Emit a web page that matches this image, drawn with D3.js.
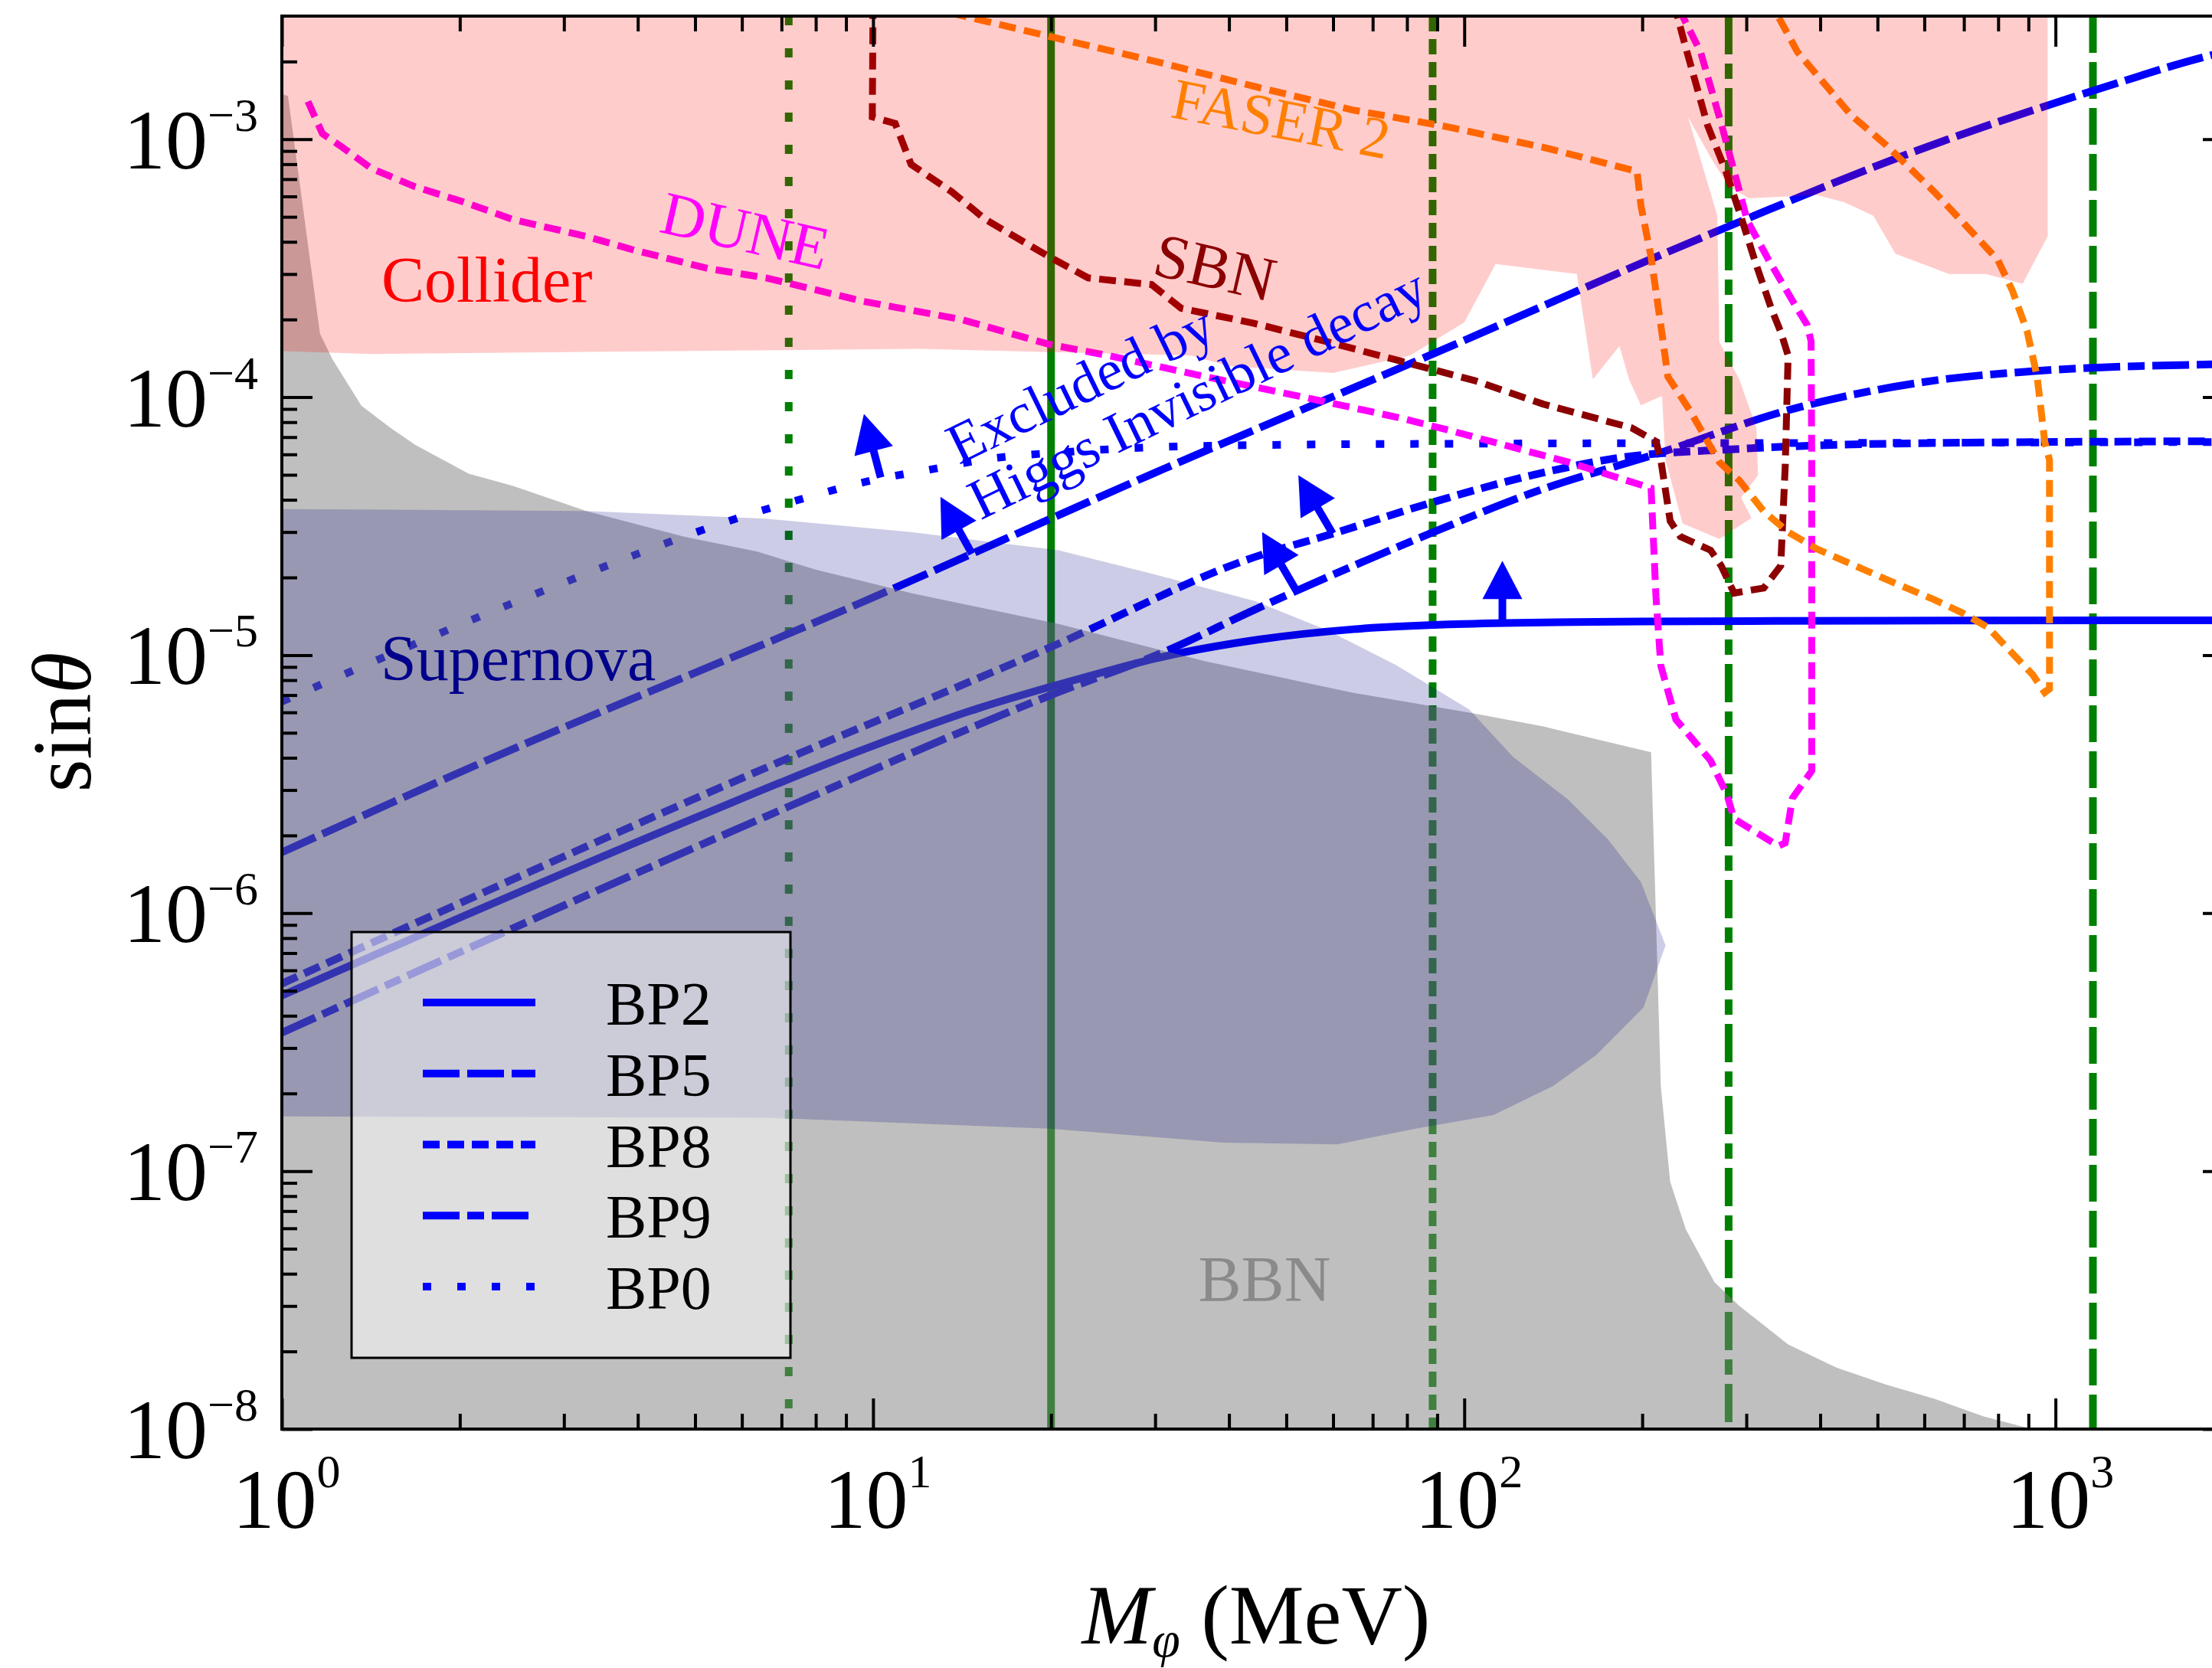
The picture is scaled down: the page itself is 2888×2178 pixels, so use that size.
<!DOCTYPE html>
<html><head><meta charset="utf-8">
<script src="https://cdn.jsdelivr.net/npm/d3@7"></script>
<style>body{margin:0;background:#fff}</style>
</head><body>
<svg id="c" width="2888" height="2178"></svg>
<script>
// ---------------- data ----------------
const massMajor=[1,10,100,1000];
const massExp=["0","1","2","3"];
const sinMajor=[1e-3,1e-4,1e-5,1e-6,1e-7,1e-8];
const sinExp=["\u22123","\u22124","\u22125","\u22126","\u22127","\u22128"];

const colliderRegion=[[0.9,3.5e-3],[970,3.5e-3],[970,4.2e-4],[880,2.75e-4],[762,3.0e-4],[661,3.0e-4],[536,3.6e-4],[492,5.05e-4],[439,5.7e-4],[395,6.07e-4],[303,5.9e-4],[280,6.55e-4],[261,8.5e-4],[239,1.22e-3],[268,5.05e-4],[270,1.64e-4],[292,1.17e-4],[312,7.6e-5],[314,4.98e-5],[294,4.08e-5],[306,3.4e-5],[270,2.82e-5],[234,3.24e-5],[219,5.7e-5],[216,1.01e-4],[199,9.3e-5],[190,1.17e-4],[183,1.58e-4],[165,1.17e-4],[155,3.0e-4],[113,3.28e-4],[100,1.95e-4],[81,1.45e-4],[60,1.24e-4],[40,1.32e-4],[34.5,1.45e-4],[12,1.54e-4],[1.42,1.47e-4],[0.9,1.52e-4]];

const bbnRegion=[[0.9,0.9e-8],[0.9,1.6e-3],[1.024,1.47e-3],[1.16,1.76e-4],[1.218,1.4e-4],[1.363,9.27e-5],[1.527,7.6e-5],[1.68,6.54e-5],[2.07,5.05e-5],[2.46,4.53e-5],[3.27,3.62e-5],[4.79,2.88e-5],[6.37,2.52e-5],[7.97,2.15e-5],[11.6,1.74e-5],[20.6,1.32e-5],[36.5,9.46e-6],[64.5,7.16e-6],[102,5.99e-6],[136,5.29e-6],[207,4.2e-6],[211,9.46e-7],[215,2.13e-7],[223,9.08e-8],[237,5.94e-8],[265,3.71e-8],[292,3.0e-8],[353,2.13e-8],[426,1.73e-8],[516,1.49e-8],[624,1.31e-8],[756,1.12e-8],[912,1e-8],[1000,0.9e-8]];

const supernovaRegion=[[0.9,3.69e-5],[3.27,3.62e-5],[6.59,3.38e-5],[11.6,3.0e-5],[20.6,2.55e-5],[30.1,2.05e-5],[44.2,1.62e-5],[58.6,1.25e-5],[76.7,9.15e-6],[102,6.15e-6],[121,4.03e-6],[150,2.75e-6],[175,1.93e-6],[199,1.32e-6],[219,7.5e-7],[201,4.31e-7],[167,2.81e-7],[141,2.13e-7],[112,1.65e-7],[82.8,1.46e-7],[61,1.27e-7],[39.1,1.29e-7],[19.9,1.46e-7],[6.59,1.61e-7],[0.9,1.63e-7]];

const duneCurve=[[1.107,1.40e-3],[1.171,1.05e-3],[1.266,9.3e-4],[1.417,7.7e-4],[1.68,6.54e-4],[2.03,5.71e-4],[2.46,4.88e-4],[3.27,4.2e-4],[3.95,3.71e-4],[5.27,3.15e-4],[6.59,2.9e-4],[9.65,2.35e-4],[14.1,2.0e-4],[19.9,1.6e-4],[25,1.45e-4],[36.5,1.2e-4],[53.5,1.0e-4],[78,8.3e-5],[93,7.5e-5],[150,5.6e-5],[207,4.44e-5],[211,1.68e-5],[215,9.1e-6],[228,5.63e-6],[261,3.9e-6],[278,2.89e-6],[286,2.32e-6],[340,1.82e-6],[349,1.87e-6],[359,2.79e-6],[387,3.56e-6],[387,5.7e-5],[386,1.65e-4],[380,1.91e-4],[362,2.29e-4],[328,3.37e-4],[301,4.84e-4],[287,7.3e-4],[272,1.15e-3],[251,2.18e-3],[234,3e-3],[229,3.4e-3]];

const sbnCurve=[[10,3.4e-3],[9.97,1.22e-3],[10.9,1.15e-3],[11.6,7.98e-4],[13.6,6.24e-4],[15.5,4.88e-4],[19.9,3.49e-4],[23.1,2.9e-4],[29.6,2.73e-4],[33.2,2.21e-4],[44.2,1.93e-4],[58.6,1.64e-4],[78,1.38e-4],[104,1.16e-4],[136,9.4e-5],[192,7.6e-5],[211,6.73e-5],[215,5.71e-5],[223,3.31e-5],[232,2.88e-5],[261,2.55e-5],[272,2.22e-5],[286,1.74e-5],[321,1.82e-5],[343,2.22e-5],[349,5.37e-5],[353,1.45e-4],[343,1.79e-4],[331,2.19e-4],[311,3.31e-4],[294,4.98e-4],[277,7.5e-4],[258,1.13e-3],[237,2.26e-3],[226,3.4e-3]];

const faserCurve=[[13.5,3.09e-3],[19.9,2.5e-3],[30.1,2.0e-3],[44.2,1.6e-3],[64.5,1.30e-3],[93,1.12e-3],[136,9.3e-4],[196,7.5e-4],[199,5.52e-4],[207,3.49e-4],[215,1.9e-4],[221,1.2e-4],[241,8.85e-5],[270,5.6e-5],[292,4.75e-5],[321,3.61e-5],[353,3.0e-5],[395,2.58e-5],[516,1.97e-5],[624,1.64e-5],[699,1.45e-5],[769,1.28e-5],[831,1.06e-5],[915,8.4e-6],[959,7.16e-6],[977,7.4e-6],[977,5.7e-5],[959,6.73e-5],[931,1.2e-4],[896,1.79e-4],[846,2.58e-4],[799,3.4e-4],[726,4.31e-4],[624,6.24e-4],[516,9.53e-4],[451,1.24e-3],[366,2.18e-3],[336,3.13e-3],[330,3.4e-3]];

const bp2=[[1,4.79e-7],[2,9.6e-7],[5,2.34e-6],[10,4.45e-6],[15,6.2e-6],[20,7.55e-6],[25,8.7e-6],[30,9.7e-6],[45,1.15e-5],[65,1.26e-5],[100,1.32e-5],[200,1.35e-5],[500,1.36e-5],[2000,1.365e-5]];
const bp5=[[1,1.72e-6],[2.11,3.71e-6],[9.14,1.53e-5],[29.3,4.98e-5],[100,1.66e-4],[199,3.3e-4],[303,4.95e-4],[536,8.4e-4],[1157,1.54e-3],[1840,2.12e-3],[2000,2.22e-3]];
const bp8=[[1,5.33e-7],[6.59,3.66e-6],[19.9,1.07e-5],[44.2,2.4e-5],[60,2.96e-5],[88,3.9e-5],[136,5.1e-5],[181,5.8e-5],[292,6.3e-5],[624,6.64e-5],[2000,6.75e-5]];
const bp9=[[1,3.44e-7],[6.59,2.37e-6],[19.9,6.97e-6],[31.4,1.04e-5],[44.2,1.5e-5],[87.8,2.97e-5],[130,4.25e-5],[215,6.1e-5],[353,8.9e-5],[624,1.16e-4],[912,1.26e-4],[1840,1.34e-4],[2000,1.345e-4]];
const bp0=[[1,6.6e-6],[1.5,9.9e-6],[2,1.31e-5],[3,1.91e-5],[4,2.47e-5],[6,3.44e-5],[7.66,4.06e-5],[9.8,4.72e-5],[12.6,5.26e-5],[16,5.8e-5],[20.6,6.1e-5],[26.5,6.32e-5],[40,6.5e-5],[100,6.6e-5],[500,6.65e-5],[2000,6.7e-5]];
const bpNames=["BP2","BP5","BP8","BP9","BP0"];

const thresholds=[7.2,20,88.4,280,1157];

// arrows: [base, tip] in data units
const arrowBase=[[10.3,4.88e-5],[14.7,2.47e-5],[59.9,2.96e-5],[51.9,1.79e-5],[116,1.36e-5]];
const arrowTip=[[9.65,8.61e-5],[13.0,4.11e-5],[52.4,4.98e-5],[45.5,3.0e-5],[116,2.32e-5]];

// ---------------- layout / style ----------------
const L=368,R=2916,T=21,B=1866;
const FONT="'Liberation Serif','Times New Roman',serif";
const svg=d3.select("#c");
svg.append("rect").attr("width",2888).attr("height",2178).attr("fill","#fff");
const x=d3.scaleLog().domain([1,2000]).range([L,R]);
const y=d3.scaleLog().domain([1e-8,3e-3]).range([B,T]);

svg.append("defs").append("clipPath").attr("id","clip")
  .append("rect").attr("x",L).attr("y",T).attr("width",R-L).attr("height",B-T);
const g=svg.append("g").attr("clip-path","url(#clip)");

const poly=d3.line().x(d=>x(d[0])).y(d=>y(d[1]));
const smooth=d3.line().x(d=>x(d[0])).y(d=>y(d[1])).curve(d3.curveMonotoneX);

// threshold lines
const threshDash=["12,30",null,"20,10","50,12,20,12","48,12"];
g.selectAll("line.th").data(thresholds).join("line").attr("class","th")
  .attr("x1",d=>x(d)).attr("x2",d=>x(d)).attr("y1",T).attr("y2",B)
  .attr("stroke","#008000").attr("stroke-width",10)
  .attr("stroke-dasharray",(d,i)=>threshDash[i]);

// BP curves
const bpData=[bp2,bp5,bp8,bp9,bp0];
const bpDash=[null,"48,10","22,10","48,10,22,10","11,34"];
g.selectAll("path.bp").data(bpData).join("path").attr("class","bp")
  .attr("d",smooth).attr("fill","none").attr("stroke","#0000ff").attr("stroke-width",10)
  .attr("stroke-dasharray",(d,i)=>bpDash[i]);

// fills
g.append("path").attr("d",poly(bbnRegion)+"Z").attr("fill","#808080").attr("fill-opacity",0.5);
g.append("path").attr("d",poly(supernovaRegion)+"Z").attr("fill","#000080").attr("fill-opacity",0.2);

// projected sensitivities
const projData=[duneCurve,sbnCurve,faserCurve];
const projColor=["#ff00ff","#8b0000","#ff8000"];
g.selectAll("path.proj").data(projData).join("path").attr("class","proj")
  .attr("d",poly).attr("fill","none").attr("stroke",(d,i)=>projColor[i]).attr("stroke-width",9)
  .attr("stroke-dasharray","22,11");

g.append("path").attr("d",poly(colliderRegion)+"Z").attr("fill","#ff0000").attr("fill-opacity",0.2);

// arrows
arrowBase.forEach((b,i)=>{
  const t=arrowTip[i];
  const bx=x(b[0]),by=y(b[1]),tx=x(t[0]),ty=y(t[1]);
  const len=Math.hypot(tx-bx,ty-by), ux=(tx-bx)/len, uy=(ty-by)/len;
  const hl=50,hw=26;
  g.append("line").attr("x1",bx).attr("y1",by).attr("x2",tx-ux*hl*0.8).attr("y2",ty-uy*hl*0.8)
    .attr("stroke","#0000ff").attr("stroke-width",10);
  const px=-uy,py=ux;
  g.append("path").attr("d",`M${tx},${ty}L${tx-ux*hl+px*hw},${ty-uy*hl+py*hw}L${tx-ux*hl-px*hw},${ty-uy*hl-py*hw}Z`)
    .attr("fill","#0000ff");
});

// annotation texts
function label(txt,pos,opts){
  const t=g.append("text").attr("font-family",FONT).attr("font-size",opts.size)
    .attr("fill",opts.color).attr("text-anchor",opts.anchor||"start")
    .attr("transform",`translate(${x(pos[0])},${y(pos[1])}) rotate(${opts.rot||0})`).text(txt);
  return t;
}
label("Collider",[1.474,2.35e-4],{size:84,color:"#ff0000"});
label("Supernova",[1.469,7.98e-6],{size:84,color:"#00008b"});
label("BBN",[35.5,3.13e-8],{size:84,color:"#8a8a8a"});
label("DUNE",[5.97,3.69e-4],{size:80,color:"#ff00ff",anchor:"middle",rot:13});
label("SBN",[37.2,2.65e-4],{size:82,color:"#8b0000",anchor:"middle",rot:13});
label("FASER 2",[48.3,1.01e-3],{size:76,color:"#ff8000",anchor:"middle",rot:11});
label("Excluded by",[13.97,5.45e-5],{size:75,color:"#0000ff",rot:-26});
label("Higgs Invisible decay",[15.2,3.33e-5],{size:75,color:"#0000ff",rot:-26});

// ---------------- axes ----------------
const minorX=[];[1,10,100,1000].forEach(p=>{for(let k=2;k<=9;k++){const v=k*p;if(v<2000)minorX.push(v);}});
const minorY=[];[1e-8,1e-7,1e-6,1e-5,1e-4,1e-3].forEach(p=>{for(let k=2;k<=9;k++){const v=k*p;if(v<2.9e-3)minorY.push(v);}});
function tickAxis(axisFn,scale,vals,size,tr){
  const a=svg.append("g").attr("transform",tr)
    .call(axisFn(scale).tickValues(vals).tickSize(size).tickFormat(""));
  a.select(".domain").remove();
  a.selectAll("line").attr("stroke","#000").attr("stroke-width",4);
}
tickAxis(d3.axisBottom,x,massMajor,-40,`translate(0,${B})`);
tickAxis(d3.axisBottom,x,minorX,-20,`translate(0,${B})`);
tickAxis(d3.axisTop,x,massMajor,-40,`translate(0,${T})`);
tickAxis(d3.axisTop,x,minorX,-20,`translate(0,${T})`);
tickAxis(d3.axisLeft,y,sinMajor,-40,`translate(${L},0)`);
tickAxis(d3.axisLeft,y,minorY,-20,`translate(${L},0)`);
tickAxis(d3.axisRight,y,sinMajor,-40,`translate(${R},0)`);
tickAxis(d3.axisRight,y,minorY,-20,`translate(${R},0)`);

svg.append("rect").attr("x",L).attr("y",T).attr("width",R-L).attr("height",B-T)
  .attr("fill","none").attr("stroke","#000").attr("stroke-width",4);

// tick labels
sinMajor.forEach((v,i)=>{
  const t=svg.append("text").attr("font-family",FONT).attr("font-size",110)
    .attr("text-anchor","end").attr("x",337).attr("y",y(v)+38);
  t.append("tspan").text("10");
  t.append("tspan").attr("font-size",62).attr("dy",-49).text(sinExp[i]);
});
massMajor.forEach((v,i)=>{
  const t=svg.append("text").attr("font-family",FONT).attr("font-size",110)
    .attr("text-anchor","middle").attr("x",x(v)+6).attr("y",1995);
  t.append("tspan").text("10");
  t.append("tspan").attr("font-size",62).attr("dy",-53).text(massExp[i]);
});

// axis titles
const xt=svg.append("text").attr("font-family",FONT).attr("font-size",110)
  .attr("text-anchor","middle").attr("x",1640).attr("y",2146);
xt.append("tspan").attr("font-style","italic").text("M");
xt.append("tspan").attr("font-style","italic").attr("font-size",66).attr("dy",17).text("\u03c6");
xt.append("tspan").attr("dy",-17).text(" (MeV)");
const yt=svg.append("text").attr("font-family",FONT).attr("font-size",110)
  .attr("text-anchor","middle").attr("transform","translate(118,943) rotate(-90)");
yt.append("tspan").text("sin");
yt.append("tspan").attr("font-style","italic").text("\u03b8");

// ---------------- legend ----------------
const lg=svg.append("g");
lg.append("rect").attr("x",459).attr("y",1217).attr("width",573).attr("height",556)
  .attr("fill","#fff").attr("fill-opacity",0.5).attr("stroke","#000").attr("stroke-width",3);
bpNames.forEach((n,i)=>{
  const yy=1309+i*92.75;
  lg.append("line").attr("x1",552).attr("x2",699).attr("y1",yy).attr("y2",yy)
    .attr("stroke","#0000ff").attr("stroke-width",10).attr("stroke-dasharray",bpDash[i]);
  lg.append("text").attr("font-family",FONT).attr("font-size",80).attr("x",791).attr("y",yy+29).text(n);
});
</script>
</body></html>
